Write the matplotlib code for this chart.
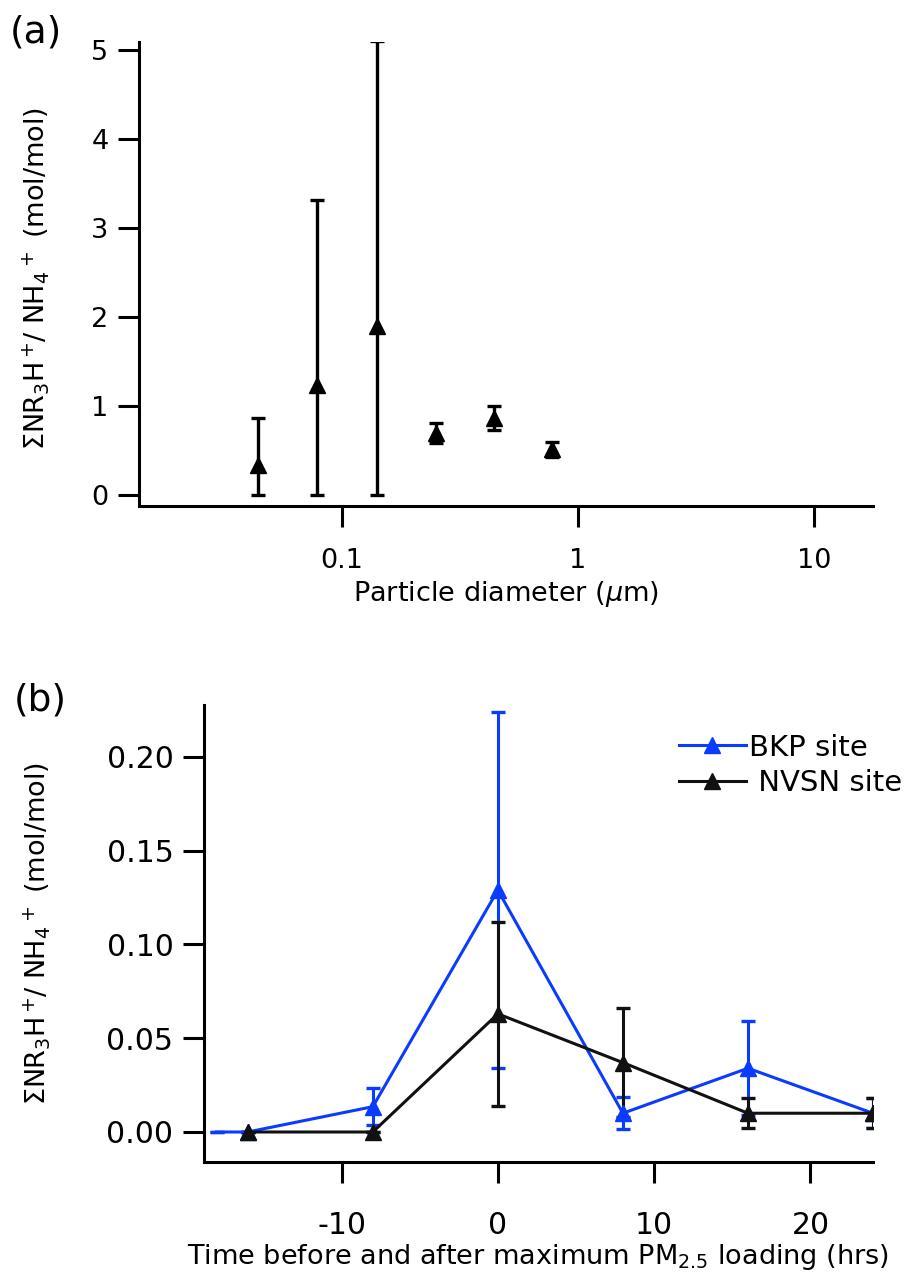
import numpy as np
import matplotlib
matplotlib.use("Agg")
from matplotlib import pyplot as plt
from matplotlib.ticker import FixedLocator, FixedFormatter, NullLocator

# panel (a): size resolved ratio
diam = [0.044, 0.078, 0.141, 0.25, 0.44, 0.78]
ratio = [0.34, 1.24, 1.90, 0.70, 0.87, 0.52]
ratio_lo = [0.0, 0.0, 0.0, 0.58, 0.73, 0.43]
ratio_hi = [0.87, 3.32, 5.10, 0.81, 1.00, 0.60]

# panel (b): time series around max PM2.5
t_bkp = [-18, -16, -8, 0, 8, 16, 24]
bkp = [0.0, 0.0, 0.0135, 0.129, 0.010, 0.034, 0.010]
bkp_err = [0.0, 0.0, 0.0098, 0.095, 0.0085, 0.025, 0.008]
t_nvsn = [-16, -8, 0, 8, 16, 24]
nvsn = [0.0, 0.0, 0.063, 0.037, 0.010, 0.010]
nvsn_err = [0.0, 0.0, 0.049, 0.029, 0.008, 0.008]

blue = '#0a3cff'
black = '#111111'
ylab = r'$\Sigma$NR$_3$H$^+\!$/ NH$_4$$^+$ (mol/mol)'

plt.rcParams['font.family'] = ['DejaVu Sans']
plt.rcParams['mathtext.fontset'] = 'dejavusans'
plt.rcParams['axes.unicode_minus'] = False

fig = plt.figure(figsize=(9.12, 12.77), dpi=100)


def style(ax, fs, xpad, ypad):
    for s in ['top', 'right']:
        ax.spines[s].set_visible(False)
    for s in ['left', 'bottom']:
        ax.spines[s].set_linewidth(2.2)
    ax.tick_params(direction='out', length=15, width=2.2, labelsize=fs)
    ax.tick_params(axis='x', pad=xpad)
    ax.tick_params(axis='y', pad=ypad)
    ax.tick_params(which='minor', length=0)


# ---- (a)
ax1 = fig.add_axes([139 / 912, 1 - 506 / 1277, 734 / 912, 464 / 1277])
yerr = [np.array(ratio) - np.array(ratio_lo), np.array(ratio_hi) - np.array(ratio)]
ax1.errorbar(diam, ratio, yerr=yerr, fmt='^', color='black', ms=11,
             capsize=5, capthick=2.4, elinewidth=2.4)
ax1.set_xscale('log')
ax1.set_xlim(0.0138, 17.8)
ax1.set_ylim(-0.124, 5.09)
ax1.xaxis.set_major_locator(FixedLocator([0.1, 1, 10]))
ax1.xaxis.set_major_formatter(FixedFormatter(['0.1', '1', '10']))
ax1.xaxis.set_minor_locator(NullLocator())
ax1.set_yticks([0, 1, 2, 3, 4, 5])
style(ax1, 19.5, 15, 7)
ax1.set_xlabel(r'Particle diameter ($\mu$m)', fontsize=19.5, labelpad=4)
ax1.set_ylabel(ylab, fontsize=19.5)
ax1.yaxis.set_label_coords(-0.118, 0.49)
fig.text(10 / 912, 1 - 42 / 1277, '(a)', fontsize=27)

# ---- (b)
ax2 = fig.add_axes([204 / 912, 1 - 1162 / 1277, 669 / 912, 457 / 1277])
ax2.errorbar(t_bkp, bkp, yerr=bkp_err, fmt='-^', color=blue, ms=11.5, lw=2.2,
             capsize=5, capthick=2.4, elinewidth=2.2, markevery=list(range(1, 7)),
             label='BKP site')
ax2.errorbar(t_nvsn, nvsn, yerr=nvsn_err, fmt='-^', color=black, ms=11.5, lw=2.2,
             capsize=5, capthick=2.4, elinewidth=2.2, label=' NVSN site')
ax2.set_xlim(-18.8, 24.0)
ax2.set_ylim(-0.016, 0.2277)
ax2.set_xticks([-10, 0, 10, 20])
ax2.set_yticks([0, 0.05, 0.10, 0.15, 0.20])
ax2.set_yticklabels(['0.00', '0.05', '0.10', '0.15', '0.20'])
style(ax2, 21.5, 20, 7)
ax2.set_xlabel(r'Time before and after maximum PM$_{2.5}$ loading (hrs)', fontsize=19.5, labelpad=2)
ax2.set_ylabel(ylab, fontsize=19.5)
ax2.yaxis.set_label_coords(-0.225, 0.5)
handles, labels = ax2.get_legend_handles_labels()
handles = [h[0] for h in handles]
ax2.legend(handles, labels, loc='upper left', bbox_to_anchor=(664 / 912, 1 - 719 / 1277),
           bbox_transform=fig.transFigure, frameon=False, fontsize=21,
           handlelength=2.3, handletextpad=0.1, labelspacing=0.25, borderpad=0)
fig.text(14 / 912, 1 - 710 / 1277, '(b)', fontsize=27)

fig.savefig('out.png', dpi=100)
